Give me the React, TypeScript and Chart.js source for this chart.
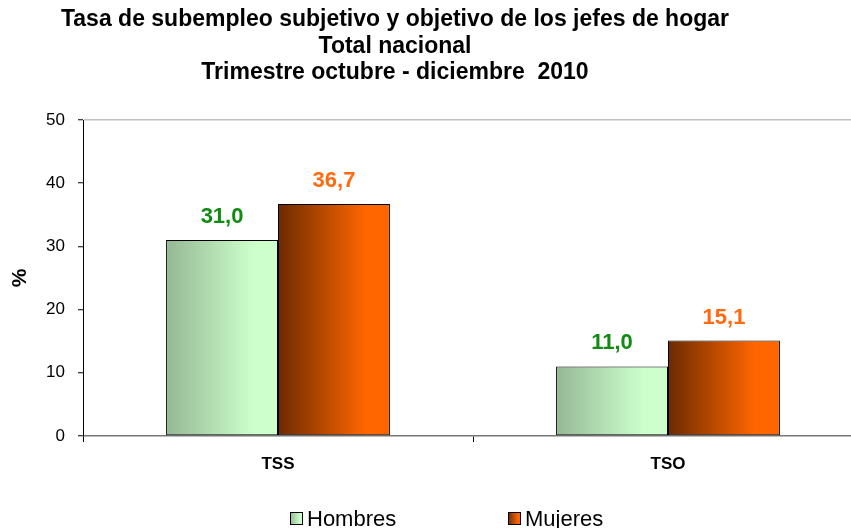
import React, { useEffect, useRef } from 'react';
import { Chart, registerables } from 'chart.js';

Chart.register(...registerables);

const titleLines = [
  'Tasa de subempleo subjetivo y objetivo de los jefes de hogar',
  'Total nacional',
  'Trimestre octubre - diciembre  2010',
];
const categories = ['TSS', 'TSO'];
const seriesNames = ['Hombres', 'Mujeres'];
const hombres = [31.0, 11.0];
const mujeres = [36.7, 15.1];
const yMin = 0;
const yMax = 50;
const yStep = 10;

const FONT = '"Liberation Sans", Arial, sans-serif';
const gradStops = [
  ['#95b895', '#ccffcc'],
  ['#6c2a00', '#ff6600'],
];
const labelColors = ['#118a11', '#ff6a10'];

function makeGrad(ctx: CanvasRenderingContext2D, x0: number, x1: number, idx: number) {
  const g = ctx.createLinearGradient(x0, 0, x1, 0);
  g.addColorStop(0, gradStops[idx][0]);
  g.addColorStop(0.78, gradStops[idx][1]);
  g.addColorStop(1, gradStops[idx][1]);
  return g;
}

export default function App() {
  const ref = useRef<HTMLCanvasElement>(null);

  useEffect(() => {
    const canvas = ref.current!;
    const gradientPlugin = {
      id: 'gradFill',
      beforeDatasetsDraw(chart: any) {
        const ctx = chart.ctx;
        chart.data.datasets.forEach((_: any, di: number) => {
          const meta = chart.getDatasetMeta(di);
          meta.data.forEach((el: any) => {
            const { x, width } = el.getProps(['x', 'width'], true);
            const g = makeGrad(ctx, x - width / 2, x + width / 2, di);
            el.options = Object.assign({}, el.options, { backgroundColor: g });
          });
        });
      },
    };
    const labelPlugin = {
      id: 'valLabels',
      afterDatasetsDraw(chart: any) {
        const ctx = chart.ctx;
        ctx.save();
        ctx.font = `bold 22px ${FONT}`;
        ctx.textAlign = 'center';
        ctx.textBaseline = 'alphabetic';
        chart.data.datasets.forEach((ds: any, di: number) => {
          const meta = chart.getDatasetMeta(di);
          meta.data.forEach((el: any, i: number) => {
            const v = ds.data[i] as number;
            ctx.fillStyle = labelColors[di];
            ctx.fillText(v.toFixed(1).replace('.', ','), el.x, el.y - 17);
          });
        });
        ctx.restore();
      },
    };
    const decoPlugin = {
      id: 'deco',
      afterDraw(chart: any) {
        const ctx = chart.ctx;
        ctx.save();
        // title
        ctx.fillStyle = '#000';
        ctx.font = `bold 23px ${FONT}`;
        ctx.textAlign = 'center';
        ctx.textBaseline = 'middle';
        titleLines.forEach((t, i) => ctx.fillText(t, 395, 20 + i * 26.5));
        // legend
        const items = [
          { x: 290, label: seriesNames[0] },
          { x: 508, label: seriesNames[1] },
        ];
        items.forEach((it, i) => {
          const y = 512;
          const s = 13;
          ctx.fillStyle = makeGrad(ctx, it.x, it.x + s, i);
          ctx.fillRect(it.x, y, s, s);
          ctx.strokeStyle = '#000';
          ctx.lineWidth = 1;
          ctx.strokeRect(it.x + 0.5, y + 0.5, s - 1, s - 1);
          ctx.fillStyle = '#000';
          ctx.font = `22px ${FONT}`;
          ctx.textAlign = 'left';
          ctx.textBaseline = 'middle';
          ctx.fillText(it.label, it.x + 17, y + s / 2 + 1);
        });
        ctx.restore();
      },
    };

    const chart = new Chart(canvas, {
      type: 'bar',
      data: {
        labels: categories,
        datasets: [
          { label: seriesNames[0], data: hombres, backgroundColor: gradStops[0][1], borderColor: '#000', borderWidth: 1, borderSkipped: false },
          { label: seriesNames[1], data: mujeres, backgroundColor: gradStops[1][1], borderColor: '#000', borderWidth: 1, borderSkipped: false },
        ],
      },
      options: {
        responsive: false,
        animation: false,
        events: [],
        datasets: { bar: { categoryPercentage: 0.574, barPercentage: 1 } },
        layout: { padding: { top: 120, right: 17, left: 0, bottom: 0 } },
        plugins: { legend: { display: false }, title: { display: false }, tooltip: { enabled: false } },
        scales: {
          x: {
            offset: true,
            grid: { offset: true, drawOnChartArea: false, tickLength: 6, tickColor: '#000', tickWidth: 1 },
            border: { color: '#777', width: 1.5 },
            ticks: { font: { family: FONT, size: 17, weight: 'bold' }, color: '#000', padding: 12 },
            afterFit: (s: any) => { s.height = 92; },
          },
          y: {
            min: yMin,
            max: yMax,
            ticks: { stepSize: yStep, font: { family: FONT, size: 17 }, color: '#000', padding: 13 },
            grid: {
              color: (c: any) => (c.tick && c.tick.value === yMax ? '#c0c0c0' : 'rgba(0,0,0,0)'),
              lineWidth: 1.5,
              tickColor: '#000',
              tickLength: 5,
              tickWidth: 1,
            },
            border: { color: '#000', width: 1 },
            title: { display: true, text: '%', font: { family: FONT, size: 21, weight: 'bold' }, color: '#000', padding: { top: 8, bottom: 0 } },
            afterFit: (s: any) => { s.width = 83; },
          },
        },
      } as any,
      plugins: [gradientPlugin, labelPlugin, decoPlugin],
    });
    return () => chart.destroy();
  }, []);

  return (
    <div style={{ position: 'fixed', left: 0, top: 0, width: 851, height: 528, overflow: 'hidden', background: '#fff' }}>
      <canvas ref={ref} width={880} height={528} style={{ display: 'block', width: 880, height: 528 }} />
    </div>
  );
}
